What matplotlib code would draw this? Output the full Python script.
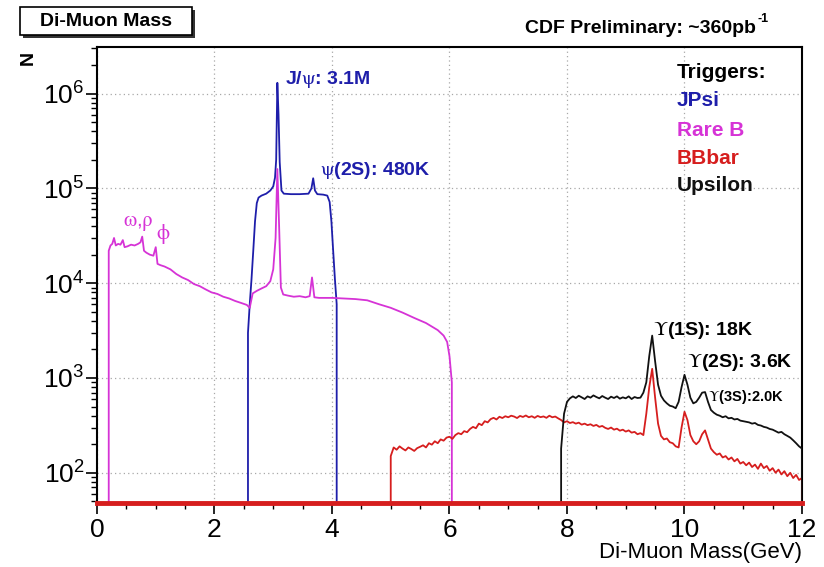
import numpy as np
import matplotlib
matplotlib.use('Agg')
import matplotlib.pyplot as plt
from matplotlib.patches import Rectangle
from matplotlib.ticker import LogLocator, MultipleLocator, NullFormatter

plt.rcParams['font.family'] = ['Liberation Sans', 'DejaVu Sans']
plt.rcParams['mathtext.fontset'] = 'stix'
plt.rcParams['mathtext.default'] = 'rm'

# Rare B trigger (magenta)
rareb_mass = [0.20, 0.23, 0.26, 0.29, 0.32, 0.36, 0.40, 0.44, 0.47, 0.52,
              0.58, 0.64, 0.70, 0.74, 0.77, 0.80, 0.84, 0.90, 0.96, 1.00,
              1.03, 1.08, 1.15, 1.25, 1.35, 1.45, 1.55, 1.65, 1.75, 1.85,
              1.95, 2.05, 2.15, 2.25, 2.35, 2.45, 2.55, 2.60, 2.65, 2.72,
              2.80, 2.88, 2.95, 3.00, 3.04, 3.07, 3.10, 3.13, 3.17, 3.25,
              3.35, 3.45, 3.55, 3.62, 3.66, 3.70, 3.78, 3.90, 4.00, 4.20,
              4.40, 4.60, 4.80, 5.00, 5.20, 5.40, 5.60, 5.80, 5.90, 5.96,
              6.00, 6.04]
rareb_counts = [22000, 25000, 26000, 30000, 25000, 26000, 25500, 28500, 24000, 24500,
                25500, 25000, 26000, 27000, 31000, 22000, 21000, 20000, 19500, 24000,
                16000, 15500, 15000, 14000, 12500, 11500, 10800, 9800, 9300, 8600,
                8000, 7700, 7200, 6900, 6500, 6200, 5900, 5500, 7800, 8300,
                8800, 9300, 10500, 14000, 30000, 160000, 40000, 9000, 7600, 7400,
                7200, 7300, 7100, 7300, 11500, 7100, 7000, 7000, 7000, 6900,
                6800, 6600, 6000, 5500, 4900, 4300, 3800, 3200, 2800, 2400,
                1700, 900]

# JPsi trigger (blue)
jpsi_mass = [2.57, 2.60, 2.63, 2.66, 2.69, 2.72, 2.75, 2.80, 2.88, 2.95,
             3.00, 3.03, 3.05, 3.07, 3.09, 3.11, 3.14, 3.18, 3.30, 3.45,
             3.60, 3.65, 3.68, 3.71, 3.75, 3.85, 3.92, 3.96, 3.99, 4.02,
             4.05, 4.08]
jpsi_counts = [3000, 6000, 11000, 22000, 45000, 70000, 80000, 84000, 88000, 95000,
               105000, 130000, 200000, 1300000, 600000, 190000, 95000, 88000, 87000, 87000,
               88000, 100000, 128000, 95000, 87000, 86000, 84000, 72000, 45000, 22000,
               11000, 6000]

# BBbar trigger (red), 0.05 GeV bins from 5.00 to 12.00
bbbar_mass = np.round(np.arange(5.0, 12.0001, 0.05), 2)
bbbar_counts = [150, 185, 175, 190, 180, 172, 185, 178, 170, 182,
                188, 195, 185, 205, 198, 215, 205, 225, 218, 235,
                240, 228, 250, 262, 255, 275, 268, 290, 305, 295,
                330, 318, 350, 340, 368, 380, 365, 390, 378, 395,
                385, 400, 392, 378, 398, 388, 402, 385, 395, 380,
                398, 386, 393, 380, 400, 385, 392, 375, 360, 340,
                350, 335, 342, 330, 338, 322, 330, 318, 325, 312,
                320, 305, 312, 298, 290, 300, 285, 292, 278, 285,
                272, 280, 265, 270, 255, 262, 250, 420, 800, 1250,
                620, 330, 245, 225, 230, 210, 205, 190, 185, 300,
                440, 360, 250, 215, 200, 215, 255, 280, 225, 180,
                165, 155, 160, 145, 150, 138, 145, 132, 140, 125,
                130, 120, 128, 115, 122, 110, 125, 112, 118, 105,
                112, 100, 108, 96, 104, 92, 100, 88, 95, 84,
                88]

# Upsilon trigger (black), 0.05 GeV bins from 7.90 to 12.00
upsilon_mass = np.round(np.arange(7.9, 12.0001, 0.05), 2)
upsilon_counts = [180, 420,
                  560, 610, 640, 615, 650, 625, 600, 640, 620, 655,
                  630, 610, 645, 620, 600, 635, 615, 640, 605, 625,
                  610, 640, 600, 630, 615, 620, 700, 900, 1700, 2800,
                  1500, 850, 650, 580, 540, 510, 500, 480, 560, 800,
                  1080, 850, 620, 540, 560, 620, 700, 710, 560, 460,
                  430, 410, 400, 385, 395, 375, 380, 365, 370, 355,
                  350, 345, 340, 330, 335, 320, 315, 305, 300, 290,
                  285, 275, 265, 270, 255, 245, 235, 220, 205, 190,
                  180]

trigger_names = ['JPsi', 'Rare B', 'BBbar', 'Upsilon']
trigger_colors = ['#1e1eaa', '#d633d6', '#d61e1e', '#111111']

floor = 1.0  # below the visible range, so edges drop to the axis
ymin, ymax = 48, 3.1e6

fig = plt.figure(figsize=(8.24, 5.67), dpi=100)
ax = fig.add_axes([0.1177, 0.1129, 0.8556, 0.8041])

series = [(jpsi_mass, jpsi_counts), (rareb_mass, rareb_counts),
          (bbbar_mass, bbbar_counts), (upsilon_mass, upsilon_counts)]
for (m, c), col in zip(series, trigger_colors):
    m = list(m)
    x = [m[0]] + m + [m[-1]]
    y = [floor] + list(c) + [floor]
    ax.plot(x, y, color=col, lw=1.3, zorder=3)

ax.set_yscale('log')
ax.set_xlim(0, 12)
ax.set_ylim(ymin, ymax)

# histogram zero level sitting on the lower frame
ax.axhline(ymin, color='#d61e1e', lw=3.5, zorder=4, clip_on=False)

ax.xaxis.set_major_locator(MultipleLocator(2))
ax.xaxis.set_minor_locator(MultipleLocator(0.5))
ax.yaxis.set_major_locator(LogLocator(base=10, numticks=12))
ax.yaxis.set_minor_locator(LogLocator(base=10, subs=np.arange(2, 10), numticks=12))
ax.yaxis.set_minor_formatter(NullFormatter())
ax.tick_params(which='major', direction='out', length=8, width=1.2, labelsize=19)
ax.tick_params(which='minor', direction='out', length=4, width=1.0)
ax.tick_params(axis='x', pad=3)
ax.tick_params(axis='y', pad=1)
ax.grid(True, which='major', linestyle=(0, (1, 2.5)), color='#a8a8a8', lw=0.9)
for s in ax.spines.values():
    s.set_linewidth(1.5)
    s.set_color('black')

ax.set_xlabel('Di-Muon Mass(GeV)', fontsize=16, ha='right', x=1.0, labelpad=0)

# peak annotations
ax.text(3.2, 10**6.1, r'J/$\psi$: 3.1M', color='#1e1eaa', fontsize=14, fontweight='bold')
ax.text(3.8, 10**5.14, r'$\psi$(2S): 480K', color='#1e1eaa', fontsize=14, fontweight='bold')
ax.text(0.45, 10**4.6, r'$\omega$,$\rho$', color='#d633d6', fontsize=15)
ax.text(1.0, 10**4.47, r'$\phi$', color='#d633d6', fontsize=15)
ax.text(9.47, 10**3.455, r'$\Upsilon$(1S): 18K', color='black', fontsize=14, fontweight='bold')
ax.text(10.04, 10**3.12, r'$\Upsilon$(2S): 3.6K', color='black', fontsize=14, fontweight='bold')
ax.text(10.4, 10**2.76, r'$\Upsilon$(3S):2.0K', color='black', fontsize=10.5, fontweight='bold')

# trigger list
fig.text(677 / 824, 1 - 78 / 567, 'Triggers:', fontsize=15, fontweight='bold', color='black')
for name, col, yb in zip(trigger_names, trigger_colors, [106, 136, 164, 191]):
    fig.text(677 / 824, 1 - yb / 567, name, fontsize=15, fontweight='bold', color=col)

# header
fig.text(756 / 824, 1 - 33 / 567, 'CDF Preliminary: ~360pb', ha='right',
         fontsize=14, fontweight='bold')
fig.text(757 / 824, 1 - 22 / 567, '-1', ha='left', fontsize=9, fontweight='bold')
fig.text(28 / 824, 1 - 58 / 567, 'N', rotation=90, ha='center', va='center',
         fontsize=14, fontweight='bold')

# title box with ROOT-like shadow
x0, y0, w, h = 20 / 824, 1 - 35 / 567, 172 / 824, 28 / 567
fig.patches.append(Rectangle((x0 + 3 / 824, y0 - 3 / 567), w, h, transform=fig.transFigure,
                             facecolor='#333333', edgecolor='none'))
fig.patches.append(Rectangle((x0, y0), w, h, transform=fig.transFigure,
                             facecolor='white', edgecolor='black', lw=1.2))
fig.text(x0 + w / 2, y0 + h / 2, 'Di-Muon Mass', ha='center', va='center',
         fontsize=14, fontweight='bold')

fig.savefig('out.png', dpi=100)
